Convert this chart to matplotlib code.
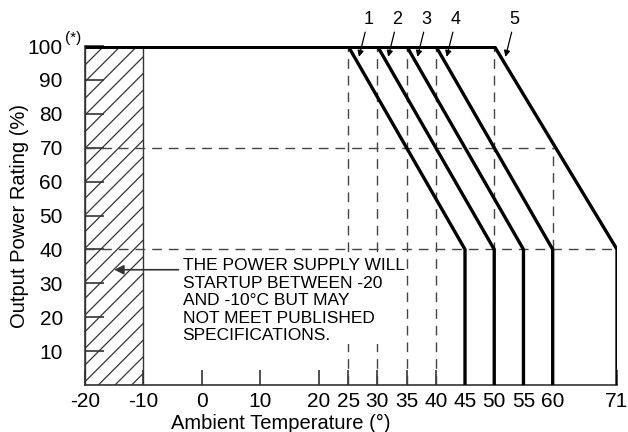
import matplotlib
matplotlib.use("Agg")
import matplotlib.pyplot as plt
from matplotlib.patches import Rectangle

# derating curves: full power up to start temp, 40% at end temp
curve_labels = ['1', '2', '3', '4', '5']
start_temps = [25, 30, 35, 40, 50]
end_temps = [45, 50, 55, 60, 71]
full_power = 100
derated_power = 40
mid_power = 70

xticks = [-20, -10, 0, 10, 20, 25, 30, 35, 40, 45, 50, 55, 60, 71]
yticks = [10, 20, 30, 40, 50, 60, 70, 80, 90, 100]
startup_zone = [-20, -10]

note = ("THE POWER SUPPLY WILL\nSTARTUP BETWEEN -20\n"
        "AND -10\u00b0C BUT MAY\nNOT MEET PUBLISHED\nSPECIFICATIONS.")

plt.rcParams['font.family'] = ['Liberation Sans', 'DejaVu Sans']
plt.rcParams['hatch.linewidth'] = 0.9

fig = plt.figure(figsize=(6.28, 4.32), dpi=100)
ax = fig.add_axes([85/628, 47/432, 532/628, 339/432])
ax.set_xlim(startup_zone[0], end_temps[-1])
ax.set_ylim(0, full_power)

dash = dict(color='#444444', lw=1, dashes=(7, 5))

# hatched startup region
ax.add_patch(Rectangle((startup_zone[0], 0), startup_zone[1] - startup_zone[0], full_power,
                       fill=False, hatch='//', edgecolor='#333333', lw=1))

# dashed guide lines
ax.plot([startup_zone[0], end_temps[-1]], [derated_power, derated_power], **dash)
ax.plot([startup_zone[0], end_temps[3]], [mid_power, mid_power], **dash)
for t in start_temps:
    ax.plot([t, t], [0, full_power], **dash)
ax.plot([end_temps[3], end_temps[3]], [derated_power, mid_power], **dash)

# curves
ax.plot([startup_zone[0], start_temps[-1]], [full_power, full_power], color='black', lw=3.6,
        solid_capstyle='butt', zorder=5)
for x0, x1 in zip(start_temps, end_temps):
    ax.plot([x0, x1, x1], [full_power, derated_power, 0], color='black', lw=2.4, zorder=5)

# curve number labels
tip_y = 96.8
for lab, x0, x1 in zip(curve_labels, start_temps, end_temps):
    tip_x = x0 + (full_power - tip_y) / (full_power - derated_power) * (x1 - x0) + 0.8
    ax.annotate(lab, xy=(tip_x, tip_y), xytext=(tip_x + 1.6, 105.3),
                ha='center', va='bottom', fontsize=13, annotation_clip=False,
                arrowprops=dict(arrowstyle='-|>', color='black', lw=0.9,
                                mutation_scale=9, shrinkA=1, shrinkB=0))

# note with arrow into hatched region
ax.annotate('', xy=(-15.0, 34), xytext=(-4.0, 34),
            arrowprops=dict(arrowstyle='-|>', color='#333333', lw=1.2,
                            mutation_scale=14, shrinkA=0, shrinkB=0))
ax.text(-3.3, 37.5, note, ha='left', va='top', fontsize=12.5, linespacing=1.22,
        zorder=4, bbox=dict(facecolor='white', edgecolor='none', pad=0.5))

# axes styling
for s in ['top', 'right']:
    ax.spines[s].set_visible(False)
for s in ['left', 'bottom']:
    ax.spines[s].set_color('#333333')
    ax.spines[s].set_linewidth(1.2)

ax.set_xticks(xticks)
ax.set_xticklabels([str(t) for t in xticks], fontsize=15)
ax.set_yticks(yticks)
ax.set_yticklabels([str(t) for t in yticks], fontsize=15)
ax.tick_params(axis='x', direction='in', length=11, width=1.2, color='#333333', pad=5)
ax.tick_params(axis='y', direction='in', length=14, width=1.2, color='#333333', pad=16)
ax.text(-23.5, 100.3, '(*)', fontsize=11, ha='left', va='bottom')

ax.set_xlabel('Ambient Temperature (\u00b0)', fontsize=14.5)
ax.xaxis.set_label_coords(0.368, -0.085)
ax.set_ylabel('Output Power Rating (%)', fontsize=14.5)
ax.yaxis.set_label_coords(-0.105, 0.5)

fig.savefig('out.png', dpi=100)
